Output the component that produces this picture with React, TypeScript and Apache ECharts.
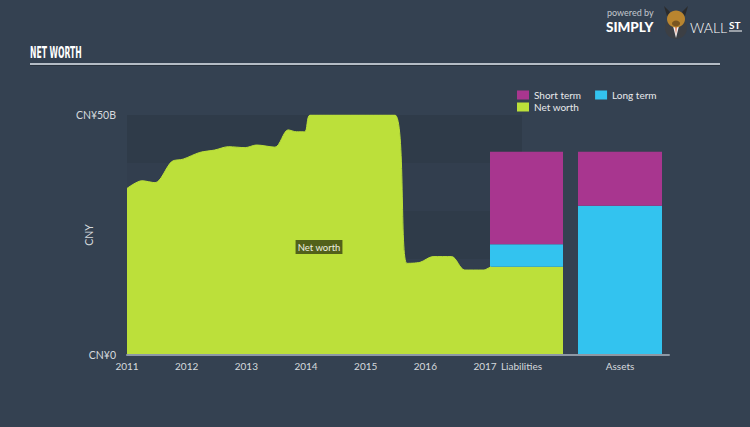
import React, { useEffect, useRef } from "react";
import * as echarts from "echarts";

const FONT = "Lato, 'Open Sans', sans-serif";

// Year tick labels
const years = [2011, 2012, 2013, 2014, 2015, 2016, 2017];

// Net worth history (fractional year, CNY billions; values above 50 are clipped by the axis)
const nwDates = [
  2011.0, 2011.25, 2011.47, 2011.75, 2011.94, 2012.22, 2012.47, 2012.7, 2012.98,
  2013.17, 2013.48, 2013.7, 2013.84, 2013.98, 2014.07, 2014.5, 2015.0, 2015.49,
  2015.69, 2015.91, 2016.13, 2016.44, 2016.66, 2016.97, 2017.1,
];
const nwValues = [
  34.7, 36.3, 35.9, 40.3, 40.8, 42.2, 42.7, 43.4, 43.2, 43.75, 43.3, 46.9, 46.5,
  46.5, 50, 50, 50, 50, 19.1, 19.3, 20.5, 20.5, 17.7, 17.7, 18.4,
];

// Balance sheet bars (CNY billions)
const liabCategories = ["Liabilities"];
const assetCategories = ["Assets"];
const liabNetWorth = [18.4];
const liabLongTerm = [4.66];
const liabShortTerm = [19.29];
const assetLongTerm = [31.1];
const assetShortTerm = [11.25];

const C_LIME = "#bce03a";
const C_MAG = "#a8368f";
const C_CYAN = "#33c3ef";
const BG = "#344151";
const AXIS = "#8d98a5";
const LABEL = "#d6dade";

export default function App() {
  const ref = useRef<HTMLDivElement>(null);
  useEffect(() => {
    if (!ref.current) return;
    const chart = echarts.init(ref.current, null, { renderer: "svg" });
    const labelStyle = { color: LABEL, fontSize: 10, fontFamily: FONT };
    const option: any = {
      animation: false,
      backgroundColor: BG,
      textStyle: { fontFamily: FONT },
      grid: [
        { left: 127, top: 115, width: 395, height: 240 },
        { left: 490, top: 115, width: 73, height: 240 },
        { left: 578, top: 115, width: 84, height: 240 },
        { left: 127, top: 115, width: 542, height: 240 },
      ],
      xAxis: [
        {
          gridIndex: 0,
          type: "value",
          min: 2011,
          max: 2017.62,
          interval: 1,
          axisLine: { show: false },
          axisTick: {
            show: true,
            inside: true,
            length: 5,
            customValues: years,
            lineStyle: { color: AXIS, width: 1 },
          },
          axisLabel: { ...labelStyle, customValues: years, margin: 6, formatter: (v: number) => String(v) },
          splitLine: { show: false },
        },
        {
          gridIndex: 1,
          type: "category",
          data: liabCategories,
          axisLine: { show: false },
          axisTick: { show: false },
          axisLabel: { ...labelStyle, margin: 6, padding: [0, 10, 0, 0] },
        },
        {
          gridIndex: 2,
          type: "category",
          data: assetCategories,
          axisLine: { show: false },
          axisTick: { show: false },
          axisLabel: { ...labelStyle, margin: 6 },
        },
        {
          gridIndex: 3,
          type: "value",
          min: 0,
          max: 1,
          z: 10,
          axisLine: { show: true, lineStyle: { color: AXIS, width: 2 } },
          axisTick: { show: false },
          axisLabel: { show: false },
          splitLine: { show: false },
        },
      ],
      yAxis: [
        {
          gridIndex: 0,
          type: "value",
          min: 0,
          max: 50,
          interval: 10,
          name: "CNY",
          nameLocation: "middle",
          nameGap: 33,
          nameMoveOverlap: false,
          nameTextStyle: { color: LABEL, fontSize: 10.5, fontFamily: FONT },
          axisLine: { show: false },
          axisTick: { show: false },
          splitLine: { show: false },
          splitArea: {
            show: true,
            areaStyle: { color: ["rgba(0,0,0,0.09)", "rgba(0,0,0,0.035)"] },
          },
          axisLabel: {
            ...labelStyle,
            fontSize: 10.5,
            margin: 11,
            formatter: (v: number) => (v === 0 ? "CN¥0" : v === 50 ? "CN¥50B" : ""),
          },
        },
        { gridIndex: 1, type: "value", min: 0, max: 50, show: false },
        { gridIndex: 2, type: "value", min: 0, max: 50, show: false },
        { gridIndex: 3, type: "value", min: 0, max: 1, show: false },
      ],
      legend: [
        {
          left: 517,
          top: 90,
          padding: 0,
          itemWidth: 12,
          itemHeight: 9,
          itemGap: 14,
          icon: "rect",
          data: ["Short term", "Long term"],
          textStyle: { color: "#e8eaec", fontSize: 10, fontFamily: FONT },
        },
        {
          left: 517,
          top: 102,
          padding: 0,
          itemWidth: 12,
          itemHeight: 9,
          icon: "rect",
          data: ["Net worth"],
          textStyle: { color: "#e8eaec", fontSize: 10, fontFamily: FONT },
        },
      ],
      series: [
        {
          name: "Net worth",
          type: "line",
          xAxisIndex: 0,
          yAxisIndex: 0,
          data: nwDates.map((d, i) => [d, nwValues[i]]),
          smooth: 0.3,
          showSymbol: false,
          symbol: "none",
          clip: true,
          lineStyle: { color: C_LIME, width: 1 },
          itemStyle: { color: C_LIME },
          areaStyle: { color: C_LIME, opacity: 1 },
          z: 3,
        },
        {
          name: "Net worth",
          type: "bar",
          xAxisIndex: 1,
          yAxisIndex: 1,
          stack: "liab",
          barWidth: "100%",
          data: liabNetWorth,
          itemStyle: { color: C_LIME },
        },
        {
          name: "Long term",
          type: "bar",
          xAxisIndex: 1,
          yAxisIndex: 1,
          stack: "liab",
          barWidth: "100%",
          data: liabLongTerm,
          itemStyle: { color: C_CYAN },
        },
        {
          name: "Short term",
          type: "bar",
          xAxisIndex: 1,
          yAxisIndex: 1,
          stack: "liab",
          barWidth: "100%",
          data: liabShortTerm,
          itemStyle: { color: C_MAG },
        },
        {
          name: "Long term",
          type: "bar",
          xAxisIndex: 2,
          yAxisIndex: 2,
          stack: "asset",
          barWidth: "100%",
          data: assetLongTerm,
          itemStyle: { color: C_CYAN },
        },
        {
          name: "Short term",
          type: "bar",
          xAxisIndex: 2,
          yAxisIndex: 2,
          stack: "asset",
          barWidth: "100%",
          data: assetShortTerm,
          itemStyle: { color: C_MAG },
        },
      ],
      graphic: [
        {
          type: "text",
          x: 30,
          y: 46,
          scaleX: 0.57,
          style: {
            text: "NET WORTH",
            fill: "#ffffff",
            font: "bold 15px 'DejaVu Sans Condensed', 'DejaVu Sans', sans-serif",
          },
        },
        {
          type: "line",
          shape: { x1: 30, y1: 64, x2: 720, y2: 64 },
          style: { stroke: "#b4bcc5", lineWidth: 2 },
        },
        {
          type: "line",
          shape: { x1: 30, y1: 65.5, x2: 720, y2: 65.5 },
          style: { stroke: "#27313d", lineWidth: 1 },
        },
        {
          type: "text",
          x: 319,
          y: 247,
          z: 20,
          style: {
            text: "Net worth",
            fill: "#eef0e0",
            font: `9.5px ${FONT}`,
            align: "center",
            verticalAlign: "middle",
            backgroundColor: "#52611a",
            padding: [2, 2, 2, 2],
          },
        },
        // Logo
        {
          type: "text",
          x: 607,
          y: 12,
          style: {
            text: "powered by",
            fill: "#c3c8ce",
            font: `9px ${FONT}`,
            verticalAlign: "middle",
          },
        },
        {
          type: "text",
          x: 606,
          y: 27,
          style: {
            text: "SIMPLY",
            fill: "#ffffff",
            font: `900 13.5px ${FONT}`,
            verticalAlign: "middle",
          },
        },
        {
          type: "circle",
          shape: { cx: 676, cy: 28, r: 11 },
          style: { fill: "#3c3f44" },
        },
        {
          type: "polygon",
          shape: { points: [[672, 22], [680, 22], [676, 38]] },
          style: { fill: "#f2f2f2" },
        },
        {
          type: "polygon",
          shape: { points: [[675, 24], [677, 24], [676, 35]] },
          style: { fill: "#e0542a" },
        },
        {
          type: "ellipse",
          shape: { cx: 676, cy: 19, rx: 9, ry: 8.5 },
          style: { fill: "#b9852f" },
        },
        {
          type: "polygon",
          shape: { points: [[667, 16], [664, 6], [670, 12]] },
          style: { fill: "#2b2b2b" },
        },
        {
          type: "polygon",
          shape: { points: [[685, 16], [688, 6], [682, 12]] },
          style: { fill: "#2b2b2b" },
        },
        {
          type: "ellipse",
          shape: { cx: 676, cy: 23.5, rx: 4, ry: 3 },
          style: { fill: "#7a5520" },
        },
        {
          type: "text",
          x: 690,
          y: 27,
          style: {
            text: "WALL",
            fill: "#ffffff",
            font: `300 14px ${FONT}`,
            verticalAlign: "middle",
          },
        },
        {
          type: "text",
          x: 729,
          y: 25,
          style: {
            text: "ST",
            fill: "#ffffff",
            font: `bold 10px ${FONT}`,
            verticalAlign: "middle",
          },
        },
        {
          type: "line",
          shape: { x1: 729, y1: 31, x2: 742, y2: 31 },
          style: { stroke: "#ffffff", lineWidth: 1 },
        },
      ],
    };
    chart.setOption(option);
    return () => chart.dispose();
  }, []);
  return (
    <div
      ref={ref}
      style={{ position: "fixed", left: 0, top: 0, width: 750, height: 427 }}
    />
  );
}
